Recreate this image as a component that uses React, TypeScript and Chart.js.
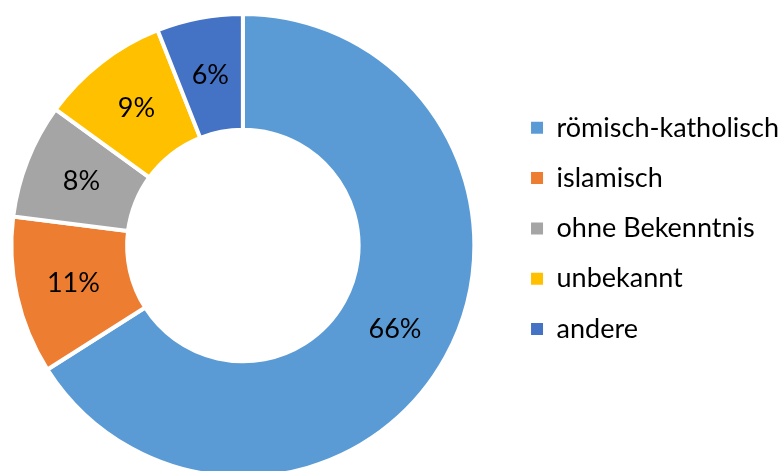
import React, { useEffect, useRef } from "react";
import { Chart, registerables } from "chart.js";

Chart.register(...registerables);

const categories = ["römisch-katholisch", "islamisch", "ohne Bekenntnis", "unbekannt", "andere"];
const shares = [66, 11, 8, 9, 6];
const colors = ["#5B9BD5", "#ED7D31", "#A5A5A5", "#FFC000", "#4472C4"];

const FONT = "Lato, 'Liberation Sans', sans-serif";
const FONT_SIZE = 27;

const pctLabels = {
  id: "pctLabels",
  afterDatasetsDraw(chart: any) {
    const ctx = chart.ctx;
    const meta = chart.getDatasetMeta(0);
    const data = chart.data.datasets[0].data as number[];
    const total = data.reduce((a, b) => a + b, 0);
    ctx.save();
    ctx.font = `${FONT_SIZE}px ${FONT}`;
    ctx.fillStyle = "#000";
    ctx.textAlign = "center";
    ctx.textBaseline = "middle";
    meta.data.forEach((arc: any, i: number) => {
      const p = arc.tooltipPosition();
      ctx.fillText(Math.round((data[i] / total) * 100) + "%", p.x, p.y);
    });
    ctx.restore();
  },
};

export default function App() {
  const ref = useRef<HTMLCanvasElement | null>(null);

  useEffect(() => {
    if (!ref.current) return;
    const baseGen = (Chart as any).overrides.doughnut.plugins.legend.labels.generateLabels;
    const chart = new Chart(ref.current, {
      type: "doughnut",
      data: {
        labels: categories,
        datasets: [
          {
            data: shares,
            backgroundColor: colors,
            borderColor: "#ffffff",
            borderWidth: 4,
          },
        ],
      },
      options: {
        responsive: false,
        animation: false,
        cutout: "50%",
        layout: { padding: { top: 12, bottom: 0, left: 0, right: 0 } },
        plugins: {
          legend: {
            position: "right",
            align: "start",
            title: {
              display: true,
              text: "",
              font: { size: 10, lineHeight: 1 },
              padding: { top: 69, bottom: 0 },
            },
            labels: {
              boxWidth: 12,
              boxHeight: 12,
              padding: 23.3,
              color: "#000",
              font: { size: FONT_SIZE, family: FONT },
              generateLabels: (c: any) =>
                baseGen(c).map((l: any) => ({ ...l, lineWidth: 0 })),
            },
          },
          tooltip: { enabled: false },
        },
      } as any,
      plugins: [pctLabels],
    });
    return () => chart.destroy();
  }, []);

  return (
    <div
      style={{
        position: "absolute",
        left: 0,
        top: 0,
        width: 779,
        height: 471,
        overflow: "hidden",
        background: "#fff",
      }}
    >
      <canvas
        ref={ref}
        width={811}
        height={479}
        style={{ position: "absolute", left: -22, top: 0 }}
      />
    </div>
  );
}
